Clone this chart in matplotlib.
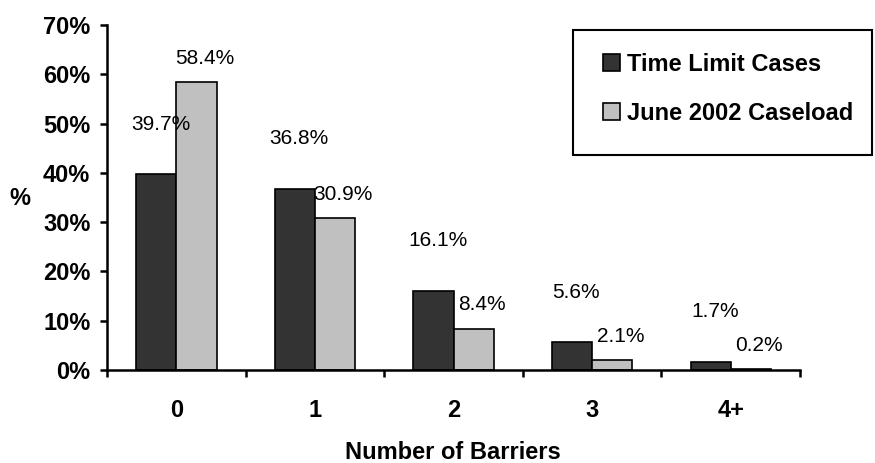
import matplotlib
matplotlib.use('Agg')
import matplotlib.pyplot as plt
from matplotlib.patches import Rectangle

plt.rcParams['font.family'] = ['Liberation Sans', 'DejaVu Sans']

categories = ['0', '1', '2', '3', '4+']
time_limit = [39.7, 36.8, 16.1, 5.6, 1.7]
june_2002 = [58.4, 30.9, 8.4, 2.1, 0.2]
series_names = ['Time Limit Cases', 'June 2002 Caseload']

fig = plt.figure(figsize=(8.75, 4.63), dpi=100)
ax = fig.add_axes([0.1223, 0.2009, 0.792, 0.7451])

x = list(range(len(categories)))
w = 0.29
b1 = ax.bar([i - w / 2 for i in x], time_limit, w, color='#333333',
            edgecolor='black', linewidth=1.2, label=series_names[0])
b2 = ax.bar([i + w / 2 for i in x], june_2002, w, color='#c0c0c0',
            edgecolor='black', linewidth=1.2, label=series_names[1])

for bar, v in zip(b1, time_limit):
    ax.annotate(f'{v:.1f}%', (bar.get_x() + bar.get_width() / 2, v),
                xytext=(3, 36), textcoords='offset points',
                ha='center', va='center', fontsize=15)
for bar, v in zip(b2, june_2002):
    ax.annotate(f'{v:.1f}%', (bar.get_x() + bar.get_width() / 2, v),
                xytext=(6, 17), textcoords='offset points',
                ha='center', va='center', fontsize=15)

ax.set_xlim(-0.5, len(categories) - 0.5)
ax.set_ylim(0, 70)
ax.set_yticks(range(0, 71, 10))
ax.set_yticklabels([f'{t}%' for t in range(0, 71, 10)],
                   fontsize=17, fontweight='bold')
ax.set_xticks([i - 0.5 for i in range(len(categories) + 1)])
ax.set_xticklabels([])
ax.set_xticks(x, minor=True)
ax.set_xticklabels(categories, minor=True, fontsize=17, fontweight='bold')
ax.tick_params(axis='x', which='minor', length=0, pad=21)
ax.tick_params(axis='both', which='major', length=5, width=1.8, direction='out')
ax.tick_params(axis='y', pad=7)

for s in ['top', 'right']:
    ax.spines[s].set_visible(False)
for s in ['left', 'bottom']:
    ax.spines[s].set_linewidth(1.8)

fig.text(0.023, 0.572, '%', fontsize=17, fontweight='bold', ha='center', va='center')
fig.text(0.518, 0.008, 'Number of Barriers', fontsize=17, fontweight='bold',
         ha='center', va='baseline')

# legend box
fig.patches.append(Rectangle((0.655, 0.665), 0.342, 0.27, transform=fig.transFigure,
                             facecolor='white', edgecolor='black', linewidth=1.5,
                             zorder=0))
fig.legend(loc='center left', bbox_to_anchor=(0.665, 0.808), frameon=False,
           prop={'size': 17, 'weight': 'bold'}, handlelength=0.7,
           handleheight=0.7, handletextpad=0.3, labelspacing=1.1)

fig.savefig('out.png', dpi=100)
